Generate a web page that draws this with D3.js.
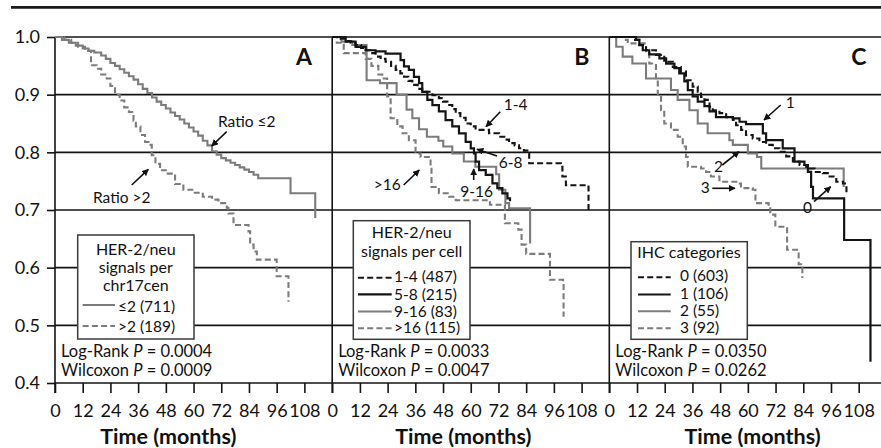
<!DOCTYPE html>
<html><head><meta charset="utf-8">
<script src="https://cdn.jsdelivr.net/npm/d3@7"></script>
<style>html,body{margin:0;padding:0;background:#fff;} svg{display:block;font-family:Lato,"Noto Sans",sans-serif;}</style>
</head><body>
<svg id="chart" width="881" height="448"></svg>
<script>
// ---------- DATA ----------
const monthTicks = [0,12,24,36,48,60,72,84,96,108];
const survTicks = [0.4,0.5,0.6,0.7,0.8,0.9,1.0];
const panelLetters = ["A","B","C"];
const axisTitle = "Time (months)";

// Panel A: HER-2/neu signals per chr17cen
const ratioLe2 = [[0,1.0],[3,0.995],[6,0.99],[9,0.985],[12,0.98],[14.5,0.976],[17,0.973],[20,0.968],[22,0.962],[24,0.955],[26,0.95],[28,0.944],[30,0.938],[32,0.932],[34,0.926],[36,0.918],[38,0.91],[40,0.903],[42,0.895],[44,0.888],[46,0.882],[48,0.876],[50,0.869],[52,0.863],[54,0.857],[56,0.85],[58,0.843],[60,0.836],[62,0.829],[64,0.82],[66,0.812],[68,0.802],[70,0.796],[72,0.79],[74,0.786],[76,0.782],[78,0.778],[80,0.774],[82,0.77],[84,0.766],[86,0.761],[88,0.755],[102,0.729],[112.7,0.686]];
const ratioGt2 = [[0,1.0],[4,0.995],[7,0.99],[10,0.983],[13,0.976],[15.6,0.951],[18,0.945],[20,0.935],[22.4,0.928],[24,0.915],[26,0.9],[28,0.89],[30,0.878],[32,0.87],[34,0.855],[35,0.845],[37,0.83],[39,0.818],[40.5,0.813],[41.9,0.795],[43.5,0.78],[45.5,0.769],[48,0.763],[52,0.745],[55.6,0.735],[60,0.73],[64,0.723],[68,0.718],[70.8,0.712],[74.4,0.704],[75.1,0.694],[77.3,0.674],[83.8,0.663],[84.5,0.64],[86,0.628],[87.4,0.614],[96,0.585],[101.1,0.541]];
const legendA = ["\u22642 (711)", ">2 (189)"];
const pValuesA = ["0.0004","0.0009"];

// Panel B: HER-2/neu signals per cell
const cell1to4 = [[0,1],[3,0.997],[5.8,0.993],[8,0.99],[10.1,0.986],[12.5,0.981],[14.5,0.977],[16.5,0.972],[18.8,0.966],[21,0.962],[23.1,0.957],[25.5,0.95],[27.5,0.943],[29.5,0.937],[31.1,0.931],[33,0.924],[34.7,0.917],[37,0.91],[39,0.905],[43.4,0.899],[46.2,0.894],[48,0.888],[49.9,0.882],[52,0.875],[53.5,0.868],[55.5,0.86],[57.8,0.85],[60,0.845],[62.1,0.839],[67.9,0.833],[72.3,0.827],[74.5,0.822],[76.6,0.816],[79,0.812],[80.9,0.807],[83,0.803],[84.5,0.798],[85.3,0.781],[99,0.775],[99.7,0.758],[101.2,0.743],[111,0.70]];
const cell5to8 = [[0,1],[5.8,0.992],[10.1,0.983],[14.5,0.977],[18.8,0.975],[23.1,0.971],[29.6,0.96],[31.1,0.949],[33.2,0.943],[35.4,0.931],[37.6,0.92],[39,0.905],[41.2,0.891],[43.4,0.882],[46.2,0.871],[49.1,0.856],[52,0.845],[54.9,0.833],[57.8,0.818],[60,0.807],[61.4,0.798],[62.1,0.784],[63.6,0.769],[66.5,0.761],[69.4,0.746],[71.5,0.738],[73.7,0.729],[75.9,0.72],[77,0.715]];
const cell9to16 = [[0,1],[4,0.992],[8.7,0.986],[14.9,0.925],[20.7,0.92],[27.9,0.9],[32.2,0.874],[34.7,0.859],[37.6,0.84],[41,0.827],[46,0.82],[48.1,0.81],[52,0.798],[57,0.784],[62,0.775],[71,0.762],[72.3,0.735],[75,0.712],[76.6,0.703],[85.7,0.642]];
const cellGt16 = [[0,1],[2,0.99],[5,0.972],[14.5,0.962],[17,0.95],[20,0.935],[21.7,0.928],[23.8,0.897],[25.3,0.859],[28.2,0.845],[30.5,0.833],[33.2,0.821],[36.1,0.798],[38.3,0.792],[42.6,0.775],[43,0.74],[46.2,0.729],[50.6,0.723],[53.5,0.717],[68.3,0.709],[74.8,0.677],[80.6,0.666],[82,0.64],[84,0.624],[94.3,0.579],[100,0.573],[100.2,0.515]];
const legendB = ["1-4 (487)","5-8 (215)","9-16 (83)",">16 (115)"];
const pValuesB = ["0.0033","0.0047"];

// Panel C: IHC categories
const ihc0 = [[0,1],[10.1,0.995],[13,0.986],[15.9,0.977],[20.2,0.969],[23.8,0.957],[27.5,0.948],[31,0.94],[33.2,0.925],[36.1,0.914],[38.3,0.905],[39.7,0.896],[41.2,0.891],[43.4,0.879],[44.8,0.873],[47.7,0.868],[50.6,0.861],[53.5,0.856],[54.9,0.847],[57.1,0.839],[59.2,0.83],[62.1,0.824],[65,0.818],[67.9,0.813],[70.8,0.807],[73.7,0.801],[76.6,0.793],[79.5,0.784],[82.4,0.778],[85.3,0.772],[88.9,0.766],[92.5,0.764],[95.4,0.758],[98.3,0.749],[101.2,0.746],[102.6,0.743],[102.7,0.729]];
const ihc1 = [[0,1],[11.6,0.995],[13,0.986],[14.5,0.977],[17.3,0.97],[21.7,0.963],[24.6,0.954],[28.2,0.946],[30.3,0.937],[32.5,0.923],[34,0.908],[36.1,0.897],[38.3,0.888],[41.2,0.88],[43.4,0.871],[46.2,0.861],[53.5,0.859],[56.4,0.853],[59.2,0.849],[66.5,0.833],[67.9,0.821],[75.1,0.807],[80.2,0.784],[84.5,0.778],[86,0.766],[87.4,0.74],[88.2,0.72],[101.7,0.648],[113.1,0.437]];
const ihc2 = [[0,1],[3,0.983],[5.8,0.966],[10,0.954],[15.9,0.928],[26.7,0.908],[29.6,0.891],[34.7,0.873],[38.3,0.85],[42.6,0.833],[52,0.821],[53.5,0.813],[60,0.798],[64,0.792],[65.8,0.772],[101.5,0.74]];
const ihc3 = [[0,1],[6.5,0.995],[8,0.989],[15.9,0.972],[17.3,0.954],[20.2,0.925],[21,0.9],[22.4,0.873],[23.8,0.85],[26.7,0.839],[29.6,0.827],[31.8,0.81],[33.2,0.792],[34,0.775],[39.7,0.772],[41.9,0.766],[44,0.758],[47.7,0.749],[55.6,0.746],[57,0.738],[62.1,0.735],[63.3,0.712],[69,0.706],[69.7,0.692],[71.9,0.671],[77,0.631],[81.3,0.628],[82,0.606],[83.5,0.6],[83.6,0.582]];
const legendC = ["0 (603)","1 (106)","2 (55)","3 (92)"];
const pValuesC = ["0.0350","0.0262"];

// ---------- STYLE / LAYOUT ----------
const BLACK = "#141414", GRAY = "#7c7c7c", DASH = "6,3.2";
const svg = d3.select("#chart");
const yTop = 37, yBot = 383, panelW = 277.1;
const panelX0 = [55, 332.2, 609.3];
const y = d3.scaleLinear().domain([0.4, 1.0]).range([yBot, yTop]);
const xs = panelX0.map(x0 => d3.scaleLinear().domain([0, 120]).range([x0, x0 + panelW]));

const styles = {
  blackDash: {color: BLACK, dash: DASH, w: 2.1},
  blackSolid: {color: BLACK, dash: null, w: 2.2},
  graySolid: {color: GRAY, dash: null, w: 2.1},
  grayDash: {color: GRAY, dash: DASH, w: 2.1}
};

const panels = [
  {series: [{d: ratioLe2, s: styles.graySolid}, {d: ratioGt2, s: styles.grayDash}],
   legend: legendA, legendStyles: [styles.graySolid, styles.grayDash], p: pValuesA},
  {series: [{d: cell9to16, s: styles.graySolid}, {d: cellGt16, s: styles.grayDash}, {d: cell1to4, s: styles.blackDash}, {d: cell5to8, s: styles.blackSolid}],
   legend: legendB, legendStyles: [styles.blackDash, styles.blackSolid, styles.graySolid, styles.grayDash], p: pValuesB},
  {series: [{d: ihc2, s: styles.graySolid}, {d: ihc3, s: styles.grayDash}, {d: ihc0, s: styles.blackDash}, {d: ihc1, s: styles.blackSolid}],
   legend: legendC, legendStyles: [styles.blackDash, styles.blackSolid, styles.graySolid, styles.grayDash], p: pValuesC}
];

// top rule
svg.append("line").attr("x1", 11).attr("x2", 881).attr("y1", 7.4).attr("y2", 7.4)
  .attr("stroke", "#1a1a1a").attr("stroke-width", 2.6);

// y axis (panel A) with labels
const yAxisG = svg.append("g").attr("transform", `translate(${panelX0[0]},0)`)
  .call(d3.axisLeft(y).tickValues(survTicks).tickFormat(d3.format(".1f")).tickSize(8).tickPadding(7));
yAxisG.select(".domain").remove();
yAxisG.selectAll("line").attr("stroke", BLACK).attr("stroke-width", 1.6);
yAxisG.selectAll("text").attr("font-size", 18).attr("fill", "#111").attr("font-family", "Lato");

// gridlines
svg.append("g").selectAll("line").data(survTicks).join("line")
  .attr("x1", panelX0[0]).attr("x2", 881)
  .attr("y1", d => y(d)).attr("y2", d => y(d))
  .attr("stroke", BLACK).attr("stroke-width", 1.6);

panels.forEach((P, i) => {
  const x = xs[i], x0 = panelX0[i];
  // x axis
  const xg = svg.append("g").attr("transform", `translate(0,${yBot})`)
    .call(d3.axisBottom(x).tickValues(monthTicks).tickSize(10).tickPadding(11));
  xg.select(".domain").remove();
  xg.selectAll("line").attr("stroke", BLACK).attr("stroke-width", 1.6);
  xg.selectAll("text").attr("font-size", 18).attr("fill", "#111").attr("font-family", "Lato");
  // panel y-axis line
  svg.append("line").attr("x1", x0).attr("x2", x0).attr("y1", yTop).attr("y2", yBot + 10)
    .attr("stroke", BLACK).attr("stroke-width", 1.6);
  // curves
  const line = d3.line().x(d => x(d[0])).y(d => y(d[1])).curve(d3.curveStepAfter);
  P.series.forEach(s => {
    svg.append("path").attr("d", line(s.d)).attr("fill", "none")
      .attr("stroke", s.s.color).attr("stroke-width", s.s.w)
      .attr("stroke-dasharray", s.s.dash).attr("stroke-linejoin", "miter");
  });
  // panel letter
  svg.append("text").attr("x", x0 + panelW - 20).attr("y", 65).attr("text-anchor", "end")
    .attr("font-size", 23).attr("font-weight", "bold").attr("fill", "#111").text(panelLetters[i]);
  // p-values
  const pt = svg.append("g").attr("font-size", 16.5).attr("fill", "#111");
  ["Log-Rank ", "Wilcoxon "].forEach((lab, k) => {
    const t = pt.append("text").attr("x", x0 + 6).attr("y", 356.7 + k * 19);
    t.append("tspan").text(lab);
    t.append("tspan").attr("font-style", "italic").text("P");
    t.append("tspan").text(" = " + P.p[k]);
  });
});

// axis titles
const titleX = [168.3, 463.3, 752.5];
titleX.forEach(cx => svg.append("text").attr("x", cx).attr("y", 444).attr("text-anchor", "middle")
  .attr("font-size", 21.5).attr("font-weight", "bold").attr("fill", "#111").text(axisTitle));

// legends
function legendBox(bx, by, bw, bh) {
  svg.append("rect").attr("x", bx).attr("y", by).attr("width", bw).attr("height", bh)
    .attr("fill", "#fff").attr("stroke", "#3a3a3a").attr("stroke-width", 1.5);
}
function header(lines, cx, ys) {
  lines.forEach((l, k) => svg.append("text").attr("x", cx).attr("y", ys[k]).attr("text-anchor", "middle")
    .attr("font-size", 16).attr("fill", "#111").text(l));
}
function entries(labels, stys, lx1, lx2, tx, lineYs, textYs) {
  labels.forEach((l, k) => {
    const s = stys[k];
    svg.append("line").attr("x1", lx1).attr("x2", lx2).attr("y1", lineYs[k]).attr("y2", lineYs[k])
      .attr("stroke", s.color).attr("stroke-width", s.w).attr("stroke-dasharray", s.dash);
    svg.append("text").attr("x", tx).attr("y", textYs[k]).attr("font-size", 15.5).attr("fill", "#111").text(l);
  });
}
// A
legendBox(77.7, 235, 116.3, 104);
header(["HER-2/neu", "signals per", "chr17cen"], 135.8, [255, 273.3, 290.7]);
entries(panels[0].legend, panels[0].legendStyles, 82.7, 115, 118, [305, 326], [311.7, 331.7]);
// B
legendBox(353.3, 220.7, 116.7, 118.6);
header(["HER-2/neu", "signals per cell"], 411.7, [238, 256.7]);
entries(panels[1].legend, panels[1].legendStyles, 358, 391.7, 394, [277.7, 294.3, 311.5, 328.3], [281.7, 299.5, 316.5, 333.3]);
// C
legendBox(631, 241.7, 116.3, 97.6);
header(["IHC categories"], 689, [258.3]);
entries(panels[2].legend, panels[2].legendStyles, 638, 670.7, 680, [277.3, 294.5, 311.3, 328.2], [281.3, 298.5, 315.5, 332.5]);

// annotations
const defs = svg.append("defs");
defs.append("marker").attr("id", "ah").attr("viewBox", "0 0 10 10").attr("refX", 9).attr("refY", 5)
  .attr("markerWidth", 7).attr("markerHeight", 7).attr("markerUnits", "userSpaceOnUse").attr("orient", "auto")
  .append("path").attr("d", "M0,0 L10,5 L0,10 z").attr("fill", "#111");
const annText = [
  ["Ratio \u22642", 218, 127], ["Ratio >2", 93, 203.3],
  ["1-4", 503.7, 110], ["6-8", 498.7, 168.3], ["9-16", 460.3, 196.7], [">16", 373.7, 190],
  ["1", 785.7, 108.3], ["2", 714, 171.7], ["3", 700.7, 193.3], ["0", 803, 213.3]
];
const annArrows = [
  [226.7, 131.7, 211.7, 146], [131.7, 185, 148.3, 169.3],
  [500.3, 111.7, 486, 126.7], [497, 156, 477, 149.3], [473.7, 180, 473.7, 169], [403.7, 185, 419.3, 170],
  [780.7, 105, 764, 120], [722.3, 165, 739, 151.7], [712.3, 188.3, 735, 188.3], [814, 201.7, 830.7, 186.7]
];
annText.forEach(a => svg.append("text").attr("x", a[1]).attr("y", a[2]).attr("font-size", 15.5).attr("fill", "#111").text(a[0]));
annArrows.forEach(a => svg.append("line").attr("x1", a[0]).attr("y1", a[1]).attr("x2", a[2]).attr("y2", a[3])
  .attr("stroke", "#111").attr("stroke-width", 1.6).attr("marker-end", "url(#ah)"));
</script>
</body></html>
